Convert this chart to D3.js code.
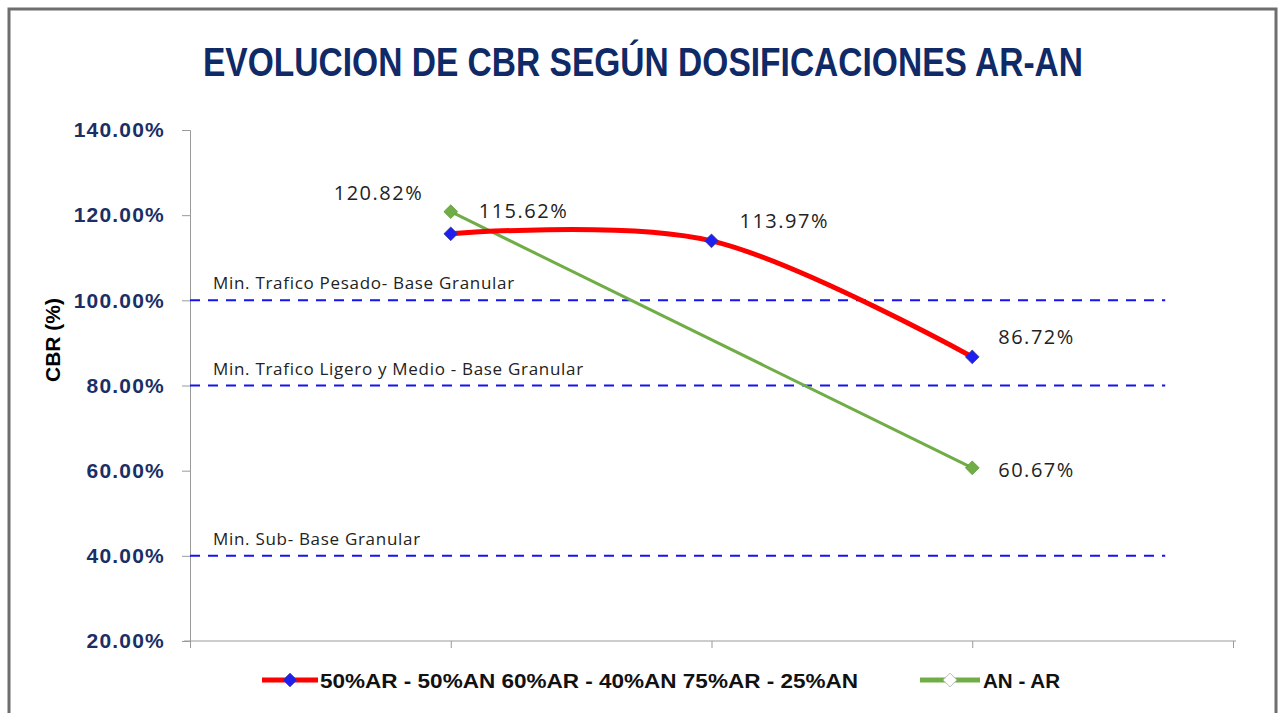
<!DOCTYPE html>
<html>
<head>
<meta charset="utf-8">
<script src="https://cdn.jsdelivr.net/npm/d3@7"></script>
<style>
  body { margin: 0; background: #fff; }
  svg { display: block; }
</style>
</head>
<body>
<div id="chart"></div>
<script>
// data
const categories = ['', '50%AR - 50%AN', '60%AR - 40%AN', '75%AR - 25%AN', ''];
const redValues = [null, 115.62, 113.97, 86.72, null];
const greenValues = [null, 120.82, null, 60.67, null];
const yTicks = [20, 40, 60, 80, 100, 120, 140];
const refValues = [100, 80, 40];
const refLabels = ['Min. Trafico Pesado- Base Granular', 'Min. Trafico Ligero y Medio - Base Granular', 'Min. Sub- Base Granular'];
const seriesNames = ['50%AR - 50%AN 60%AR - 40%AN 75%AR - 25%AN', 'AN - AR'];

const W = 1285, H = 713;
const svg = d3.select('#chart').append('svg').attr('width', W).attr('height', H);

// outer frame
svg.append('rect')
  .attr('x', 9).attr('y', 9).attr('width', 1267).attr('height', 720)
  .attr('fill', 'none').attr('stroke', '#6e6e6e').attr('stroke-width', 3);

// title
svg.append('text')
  .attr('x', 203).attr('y', 76)
  .attr('textLength', 880).attr('lengthAdjust', 'spacingAndGlyphs')
  .attr('font-family', '"Liberation Sans Narrow", "Arial Narrow", "Liberation Sans", sans-serif')
  .attr('font-weight', 'bold').attr('font-size', 40)
  .attr('fill', '#0f2a66')
  .text('EVOLUCION DE CBR SEGÚN DOSIFICACIONES AR-AN');

const x = d3.scalePoint().domain(d3.range(categories.length)).range([190, 1233]);
const y = d3.scaleLinear().domain([20, 140]).range([641, 130]);

// y axis
const yAxis = svg.append('g').attr('transform', 'translate(190,0)')
  .call(d3.axisLeft(y).tickValues(yTicks).tickSize(8).tickPadding(17).tickFormat(d => d.toFixed(2) + '%'));
yAxis.select('.domain').attr('stroke', '#9a9a9a');
yAxis.selectAll('.tick line').attr('stroke', '#9a9a9a');
yAxis.selectAll('.tick text')
  .attr('font-family', '"Liberation Sans", Arial, sans-serif')
  .attr('font-weight', 'bold').attr('font-size', 21).attr('fill', '#1a2f66')
  .attr('letter-spacing', 1.2);

// x axis
const xAxis = svg.append('g').attr('transform', 'translate(0,641)')
  .call(d3.axisBottom(x).tickSize(7).tickSizeOuter(0).tickFormat(''));
xAxis.select('.domain').attr('stroke', '#9a9a9a').attr('d', 'M184,0H1236');
xAxis.selectAll('.tick line').attr('stroke', '#9a9a9a');

// y axis title
svg.append('text')
  .attr('transform', 'translate(60,340) rotate(-90)')
  .attr('text-anchor', 'middle')
  .attr('font-family', '"Liberation Sans", Arial, sans-serif')
  .attr('font-weight', 'bold').attr('font-size', 21).attr('fill', '#000')
  .text('CBR (%)');

// reference lines
const refEnd = x.range()[0] + (x.range()[1] - x.range()[0]) * 0.935;
refValues.forEach((v, i) => {
  svg.append('line')
    .attr('x1', 190).attr('x2', refEnd)
    .attr('y1', y(v)).attr('y2', y(v))
    .attr('stroke', '#1414ee').attr('stroke-width', 2)
    .attr('stroke-dasharray', '10,8');
  svg.append('text')
    .attr('x', 213).attr('y', y(v) - 11)
    .attr('font-family', '"Open Sans", "Noto Sans", sans-serif')
    .attr('font-size', 17).attr('fill', '#222').attr('letter-spacing', 0.7)
    .text(refLabels[i]);
});

// series
const redPts = redValues.map((v, i) => ({ i, v })).filter(d => d.v !== null);
const greenPts = greenValues.map((v, i) => ({ i, v })).filter(d => d.v !== null);

svg.append('path')
  .datum(greenPts)
  .attr('fill', 'none').attr('stroke', '#70ad47').attr('stroke-width', 3)
  .attr('d', d3.line().x(d => x(d.i)).y(d => y(d.v)));

svg.append('path')
  .datum(redPts)
  .attr('fill', 'none').attr('stroke', '#ff0000').attr('stroke-width', 5)
  .attr('d', d3.line().x(d => x(d.i)).y(d => y(d.v)).curve(d3.curveCatmullRom.alpha(0)));

const diamond = d3.symbol().type(d3.symbolDiamond2).size(120);

svg.selectAll('.red-marker')
  .data(redPts).enter().append('path')
  .attr('class', 'red-marker')
  .attr('transform', d => `translate(${x(d.i)},${y(d.v)})`)
  .attr('d', diamond)
  .attr('fill', '#1f1ff0').attr('stroke', '#3b3b8f').attr('stroke-width', 0.8);

svg.selectAll('.green-marker')
  .data(greenPts).enter().append('path')
  .attr('class', 'green-marker')
  .attr('transform', d => `translate(${x(d.i)},${y(d.v)})`)
  .attr('d', diamond)
  .attr('fill', '#70ad47').attr('stroke', '#5e9a3a').attr('stroke-width', 0.8);

// data labels
const labelFont = '"Open Sans", "Noto Sans", sans-serif';
const redOffsets = { 1: [28, -16], 2: [28, -13], 3: [26, -13] };
const greenOffsets = { 1: [-117, -12], 3: [26, 9] };
svg.selectAll('.red-label')
  .data(redPts).enter().append('text')
  .attr('x', d => x(d.i) + redOffsets[d.i][0])
  .attr('y', d => y(d.v) + redOffsets[d.i][1])
  .attr('font-family', labelFont).attr('font-size', 20).attr('fill', '#222')
  .attr('letter-spacing', 1.5)
  .text(d => d.v.toFixed(2) + '%');
svg.selectAll('.green-label')
  .data(greenPts).enter().append('text')
  .attr('x', d => x(d.i) + greenOffsets[d.i][0])
  .attr('y', d => y(d.v) + greenOffsets[d.i][1])
  .attr('font-family', labelFont).attr('font-size', 20).attr('fill', '#222')
  .attr('letter-spacing', 1.5)
  .text(d => d.v.toFixed(2) + '%');

// legend
const legend = svg.append('g');
legend.append('line').attr('x1', 262).attr('x2', 318).attr('y1', 680).attr('y2', 680)
  .attr('stroke', '#ff0000').attr('stroke-width', 5);
legend.append('path').attr('transform', 'translate(290,680)').attr('d', diamond)
  .attr('fill', '#1f1ff0').attr('stroke', '#3b3b8f').attr('stroke-width', 0.8);
legend.append('text').attr('x', 320).attr('y', 688)
  .attr('textLength', 538).attr('lengthAdjust', 'spacingAndGlyphs')
  .attr('font-family', '"Liberation Sans Narrow", "Arial Narrow", "Liberation Sans", sans-serif')
  .attr('font-weight', 'bold').attr('font-size', 21).attr('fill', '#111')
  .text(seriesNames[0]);
legend.append('line').attr('x1', 920).attr('x2', 980).attr('y1', 680).attr('y2', 680)
  .attr('stroke', '#70ad47').attr('stroke-width', 5);
legend.append('path').attr('transform', 'translate(950,680)').attr('d', diamond)
  .attr('fill', '#fff').attr('stroke', '#bbb').attr('stroke-width', 1);
legend.append('text').attr('x', 983).attr('y', 688)
  .attr('textLength', 77).attr('lengthAdjust', 'spacingAndGlyphs')
  .attr('font-family', '"Liberation Sans Narrow", "Arial Narrow", "Liberation Sans", sans-serif')
  .attr('font-weight', 'bold').attr('font-size', 21).attr('fill', '#111')
  .text(seriesNames[1]);
</script>
</body>
</html>
